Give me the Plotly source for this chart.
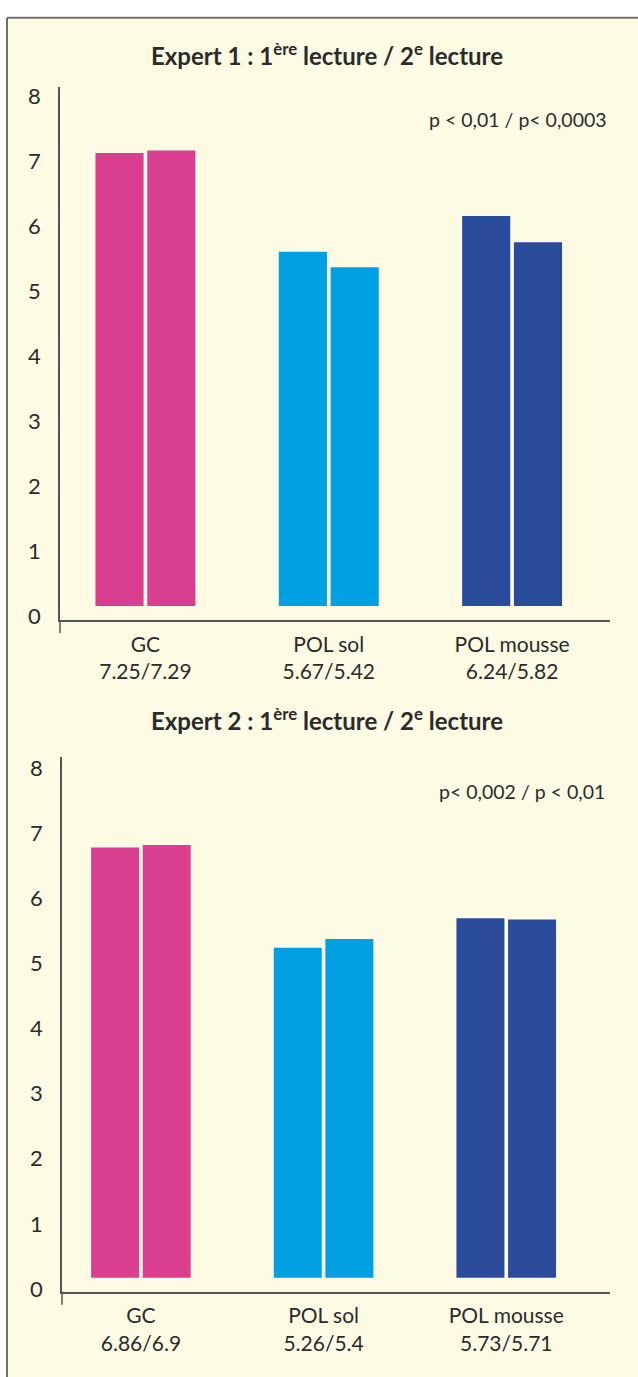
import plotly.graph_objects as go

# ---------------- data ----------------
categories = ["GC", "POL sol", "POL mousse"]
colors = ["#DA3F8F", "#00A0E2", "#2B4C9B"]

expert1_read1 = [7.25, 5.67, 6.24]
expert1_read2 = [7.29, 5.42, 5.82]
expert2_read1 = [6.86, 5.26, 5.73]
expert2_read2 = [6.9, 5.4, 5.71]

expert1_labels = ["7.25/7.29", "5.67/5.42", "6.24/5.82"]
expert2_labels = ["6.86/6.9", "5.26/5.4", "5.73/5.71"]

tick_labels = ["0", "1", "2", "3", "4", "5", "6", "7", "8"]

title1 = "Expert 1 : 1<sup>ère</sup> lecture / 2<sup>e</sup> lecture"
title2 = "Expert 2 : 1<sup>ère</sup> lecture / 2<sup>e</sup> lecture"
pval1 = "p < 0,01 / p< 0,0003"
pval2 = "p< 0,002 / p < 0,01"

# ---------------- layout helpers ----------------
W, H = 638, 1377
FONT = "Lato, 'Noto Sans', sans-serif"
TXT = "#2b2b2b"
CREAM = "#FEFBE4"
AXC = "#555555"


def px(x):
    return x / W


def py(y):
    return 1 - y / H


fig = go.Figure()

panels = [
    dict(r1=expert1_read1, r2=expert1_read2, lab=expert1_labels,
         xd=(60, 610), yd=(83, 622), base=607.7, scale=63.2,
         tick0=618, tstep=65.7, xr=(-0.466, 2.534),
         title=title1, ty=50, pv=pval1, pvy=116, pvx=609, ext=635),
    dict(r1=expert2_read1, r2=expert2_read2, lab=expert2_labels,
         xd=(62, 610), yd=(760, 1300.7), base=1286.7, scale=63.4,
         tick0=1298, tstep=65.75, xr=(-0.432, 2.568),
         title=title2, ty=722, pv=pval2, pvy=795, pvx=607, ext=1314),
]

annotations = []
shapes = [
    dict(type="rect", xref="paper", yref="paper", x0=px(7), x1=1.01,
         y0=-0.01, y1=py(13), fillcolor=CREAM, line=dict(width=0), layer="below"),
    dict(type="line", xref="paper", yref="paper", x0=px(7), x1=1.01,
         y0=py(13), y1=py(13), line=dict(color="#707070", width=2), layer="below"),
    dict(type="line", xref="paper", yref="paper", x0=px(7), x1=px(7),
         y0=py(13), y1=-0.01, line=dict(color="#707070", width=2), layer="below"),
]

for i, p in enumerate(panels, start=1):
    xa = "x" if i == 1 else f"x{i}"
    ya = "y" if i == 1 else f"y{i}"
    for vals in (p["r1"], p["r2"]):
        fig.add_trace(go.Bar(
            x=categories, y=vals, xaxis=xa, yaxis=ya,
            marker=dict(color=colors, line=dict(width=0)),
            showlegend=False, hoverinfo="skip",
        ))
    y_lo = -(p["yd"][1] - p["base"]) / p["scale"]
    y_hi = (p["base"] - p["yd"][0]) / p["scale"]
    tickvals = [(k * p["tstep"] - (p["tick0"] - p["base"])) / p["scale"]
                for k in range(len(tick_labels))]
    fig.layout[f"xaxis{'' if i == 1 else i}"] = dict(
        domain=[px(p["xd"][0]), px(p["xd"][1])],
        anchor=ya, type="category", range=list(p["xr"]),
        tickmode="array", tickvals=categories,
        ticktext=[f"{c}<br>{l}" for c, l in zip(categories, p["lab"])],
        showline=True, linecolor=AXC, linewidth=1.5, ticks="",
        showgrid=False, zeroline=False, ticklabelstandoff=5,
        tickfont=dict(family=FONT, size=21, color=TXT), fixedrange=True,
    )
    fig.layout[f"yaxis{'' if i == 1 else i}"] = dict(
        domain=[py(p["yd"][1]), py(p["yd"][0])],
        anchor=xa, range=[y_lo, y_hi],
        tickmode="array", tickvals=tickvals, ticktext=tick_labels,
        showline=True, linecolor=AXC, linewidth=1.5, ticks="",
        showgrid=False, zeroline=False, ticklabelstandoff=13,
        tickfont=dict(family=FONT, size=22, color=TXT), fixedrange=True,
    )
    # axis line extension below the x axis
    shapes.append(dict(type="line", xref="paper", yref="paper",
                       x0=px(p["xd"][0]), x1=px(p["xd"][0]),
                       y0=py(p["yd"][1]), y1=py(p["ext"]),
                       line=dict(color=AXC, width=1.5)))
    annotations.append(dict(
        text=f"<b>{p['title']}</b>", xref="paper", yref="paper",
        x=px(327), y=py(p["ty"]), xanchor="center", yanchor="middle",
        showarrow=False, font=dict(family=FONT, size=24, color=TXT)))
    annotations.append(dict(
        text=p["pv"], xref="paper", yref="paper",
        x=px(p["pvx"]), y=py(p["pvy"]), xanchor="right", yanchor="middle",
        showarrow=False, font=dict(family=FONT, size=19.5, color=TXT)))

fig.update_layout(
    width=W, height=H,
    margin=dict(l=0, r=0, t=0, b=0),
    paper_bgcolor="white", plot_bgcolor="white",
    barmode="group", bargap=0.435, bargroupgap=0.07,
    shapes=shapes, annotations=annotations,
)

fig.write_html(
    "out.html",
    config={"displayModeBar": False},
    post_script="document.body.style.margin='0px';document.body.style.overflow='hidden';",
)
